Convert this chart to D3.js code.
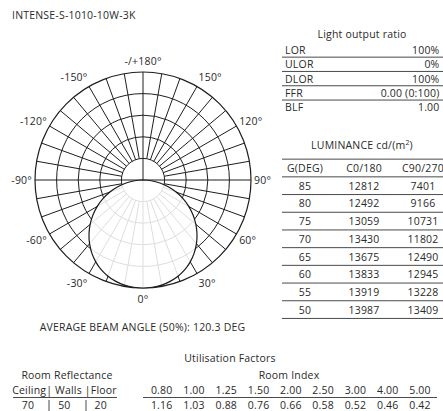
<!DOCTYPE html>
<html>
<head>
<meta charset="utf-8">
<script src="https://cdn.jsdelivr.net/npm/d3@7"></script>
<style>
  body { margin: 0; background: #fff; }
  svg text { font-family: "Open Sans", Lato, sans-serif; fill: #2a2a2a; letter-spacing: 0.2px; }
</style>
</head>
<body>
<svg class="photometry" width="443" height="411"></svg>
<script>
// ---- data ----
const title = 'INTENSE-S-1010-10W-3K';
const beamText = 'AVERAGE BEAM ANGLE (50%): 120.3 DEG';

const polarLabelAngles = [180, -150, 150, -120, 120, -90, 90, -60, 60, -30, 30, 0];
const polarLabels = ['-/+180°', '-150°', '150°', '-120°', '120°', '-90°', '90°', '-60°', '60°', '-30°', '30°', '0°'];

// relative intensity (% of max) by gamma, symmetric curve
const gammaAngles = [0, 5, 10, 15, 20, 25, 30, 35, 40, 45, 50, 55, 60, 65, 70, 75, 80, 85, 90];
const intensity = [100, 99.7, 98.9, 97.2, 94.8, 91.6, 87.5, 82.6, 77, 70.7, 63.9, 56.6, 48.9, 40.9, 32.6, 24.2, 15.9, 7.7, 0];

const lorLabels = ['LOR', 'ULOR', 'DLOR', 'FFR', 'BLF'];
const lorValues = ['100%', '0%', '100%', '0.00 (0:100)', '1.00'];

const lumHeaders = ['G(DEG)', 'C0/180', 'C90/270'];
const lumGamma = [85, 80, 75, 70, 65, 60, 55, 50];
const lumC0 = [12812, 12492, 13059, 13430, 13675, 13833, 13919, 13987];
const lumC90 = [7401, 9166, 10731, 11802, 12490, 12945, 13228, 13409];

const reflectHeader = 'Ceiling| Walls |Floor';
const reflectValues = [70, 50, 20];
const roomIndex = ['0.80', '1.00', '1.25', '1.50', '2.00', '2.50', '3.00', '4.00', '5.00'];
const ufValues = ['1.16', '1.03', '0.88', '0.76', '0.66', '0.58', '0.52', '0.46', '0.42'];

function drawSheet(){
  const svg = d3.select('svg.photometry');
  const fs = '10.5px';
  const lineCol = '#4a4a4a';

  svg.append('text')
    .text(title)
    .attr('x', 12).attr('y', 15)
    .attr('dominant-baseline', 'central')
    .style('font-size', fs);

  // ---- polar diagram ----
  const cx = 143, cy = 180, R = 108;
  const r = d3.scaleLinear().domain([0, 100]).range([0, R]);
  const rings = [20, 40, 60, 80, 100];

  const polar = svg.append('g')
    .attr('class', 'polar')
    .attr('transform', `translate(${cx}, ${cy})`);

  polar.selectAll('circle.ring')
    .data(rings)
    .enter()
    .append('circle')
      .attr('class', 'ring')
      .attr('r', d => r(d))
      .attr('fill', 'none')
      .attr('stroke', '#1e1e1e')
      .attr('stroke-width', d => d === 100 ? 1.2 : 1);

  const spokes = d3.range(0, 360, 10);
  polar.selectAll('line.spoke')
    .data(spokes)
    .enter()
    .append('line')
      .attr('class', 'spoke')
      .attr('x1', d => (d % 90 === 0 ? 0 : r(rings[0])) * Math.sin(d * Math.PI / 180))
      .attr('y1', d => (d % 90 === 0 ? 0 : r(rings[0])) * Math.cos(d * Math.PI / 180))
      .attr('x2', d => R * Math.sin(d * Math.PI / 180))
      .attr('y2', d => R * Math.cos(d * Math.PI / 180))
      .attr('stroke', '#1e1e1e')
      .attr('stroke-width', 1);

  // full curve: left half (negative gamma) then right half
  const curvePts = gammaAngles.map((g, i) => [-g, intensity[i]]).reverse()
    .concat(gammaAngles.slice(1).map((g, i) => [g, intensity[i + 1]]));

  const radial = d3.lineRadial()
    .angle(d => Math.PI - d[0] * Math.PI / 180)
    .radius(d => r(d[1]))
    .curve(d3.curveCardinal);

  polar.append('path')
    .datum(curvePts)
    .attr('d', radial)
    .attr('fill', '#fff')
    .attr('fill-opacity', 0.85)
    .attr('stroke', '#1a1a1a')
    .attr('stroke-width', 1.2);

  polar.selectAll('text.angLab')
    .data(polarLabelAngles)
    .enter()
    .append('text')
      .attr('class', 'angLab')
      .attr('x', d => (d === 0 || d === 180) ? 0 : 111 * Math.sin(d * Math.PI / 180))
      .attr('y', d => 119 * Math.cos(d * Math.PI / 180))
      .attr('dominant-baseline', 'central')
      .style('text-anchor', d => (d === 0 || d === 180) ? 'middle' : (d < 0 ? 'end' : 'start'))
      .style('font-size', fs)
      .text((d, i) => polarLabels[i]);

  svg.append('text')
    .text(beamText)
    .attr('x', 142.5).attr('y', 326.5)
    .attr('dominant-baseline', 'central')
    .style('text-anchor', 'middle')
    .style('font-size', fs);

  // ---- light output ratio table ----
  const tblL = 282, tblR = 443;
  const lorY = d3.scaleLinear().domain([0, 4]).range([50, 107.2]);

  svg.append('text')
    .text('Light output ratio')
    .attr('x', 362).attr('y', 34)
    .attr('dominant-baseline', 'central')
    .style('text-anchor', 'middle')
    .style('font-size', fs);

  const lor = svg.append('g').attr('class', 'lor');
  lor.selectAll('text.lorLab')
    .data(lorLabels)
    .enter()
    .append('text')
      .attr('x', 285)
      .attr('y', (d, i) => lorY(i))
      .attr('dominant-baseline', 'central')
      .style('font-size', fs)
      .text(d => d);
  lor.selectAll('text.lorVal')
    .data(lorValues)
    .enter()
    .append('text')
      .attr('x', 439.5)
      .attr('y', (d, i) => lorY(i))
      .attr('dominant-baseline', 'central')
      .style('text-anchor', 'end')
      .style('font-size', fs)
      .text(d => d);
  lor.selectAll('line')
    .data(lorLabels.slice(0, 4))
    .enter()
    .append('line')
      .attr('x1', tblL).attr('x2', tblR)
      .attr('y1', (d, i) => lorY(i + 0.5))
      .attr('y2', (d, i) => lorY(i + 0.5))
      .attr('stroke', lineCol)
      .attr('stroke-width', 1);

  // ---- luminance table ----
  const lumTitle = svg.append('text')
    .attr('x', 362).attr('y', 145)
    .attr('dominant-baseline', 'central')
    .style('text-anchor', 'middle')
    .style('font-size', fs);
  lumTitle.append('tspan').text('LUMINANCE cd/(m');
  lumTitle.append('tspan').text('2').attr('dy', -3).style('font-size', '7px');
  lumTitle.append('tspan').text(')').attr('dy', 3);

  const colX = d3.scalePoint().domain(lumHeaders).range([305, 423]);
  const lumY = d3.scaleLinear().domain([-1, 7]).range([168, 309.6]);

  const lum = svg.append('g').attr('class', 'lum');
  lum.selectAll('text.hdr')
    .data(lumHeaders)
    .enter()
    .append('text')
      .attr('x', d => colX(d))
      .attr('y', lumY(-1))
      .attr('dominant-baseline', 'central')
      .style('text-anchor', 'middle')
      .style('font-size', fs)
      .text(d => d);

  const rows = lumGamma.map((g, i) => [g, lumC0[i], lumC90[i]]);
  rows.forEach((row, i) => {
    lum.selectAll(null)
      .data(row)
      .enter()
      .append('text')
        .attr('x', (d, j) => colX(lumHeaders[j]))
        .attr('y', lumY(i))
        .attr('dominant-baseline', 'central')
        .style('text-anchor', 'middle')
        .style('font-size', fs)
        .text(d => d);
  });

  lum.selectAll('line')
    .data(d3.range(-2, 8))
    .enter()
    .append('line')
      .attr('x1', tblL).attr('x2', tblR)
      .attr('y1', d => lumY(d + 0.5))
      .attr('y2', d => lumY(d + 0.5))
      .attr('stroke', lineCol)
      .attr('stroke-width', 1);

  // ---- utilisation factors ----
  svg.append('text')
    .text('Utilisation Factors')
    .attr('x', 230).attr('y', 358)
    .attr('dominant-baseline', 'central')
    .style('text-anchor', 'middle')
    .style('font-size', fs);

  svg.append('text')
    .text('Room Reflectance')
    .attr('x', 67).attr('y', 375)
    .attr('dominant-baseline', 'central')
    .style('text-anchor', 'middle')
    .style('font-size', fs);

  svg.append('text')
    .text(reflectHeader)
    .attr('x', 64.5).attr('y', 389.5)
    .attr('dominant-baseline', 'central')
    .style('text-anchor', 'middle')
    .style('font-size', fs);

  svg.append('line')
    .attr('x1', 13).attr('x2', 117)
    .attr('y1', 397.5).attr('y2', 397.5)
    .attr('stroke', lineCol);

  const reflX = d3.scalePoint().domain(reflectValues).range([28, 100.7]);
  svg.selectAll('text.refl')
    .data(reflectValues)
    .enter()
    .append('text')
      .attr('class', 'refl')
      .attr('x', d => reflX(d))
      .attr('y', 404.5)
      .attr('dominant-baseline', 'central')
      .style('text-anchor', 'middle')
      .style('font-size', fs)
      .text(d => d);

  svg.selectAll('line.reflSep')
    .data([49, 86])
    .enter()
    .append('line')
      .attr('class', 'reflSep')
      .attr('x1', d => d).attr('x2', d => d)
      .attr('y1', 400).attr('y2', 411)
      .attr('stroke', '#333')
      .attr('stroke-width', 0.9);

  svg.append('text')
    .text('Room Index')
    .attr('x', 289).attr('y', 375)
    .attr('dominant-baseline', 'central')
    .style('text-anchor', 'middle')
    .style('font-size', fs);

  const riX = d3.scalePoint().domain(roomIndex).range([161.7, 420]);
  svg.selectAll('text.ri')
    .data(roomIndex)
    .enter()
    .append('text')
      .attr('class', 'ri')
      .attr('x', d => riX(d))
      .attr('y', 389.5)
      .attr('dominant-baseline', 'central')
      .style('text-anchor', 'middle')
      .style('font-size', fs)
      .text(d => d);

  svg.append('line')
    .attr('x1', 143).attr('x2', 437)
    .attr('y1', 397.5).attr('y2', 397.5)
    .attr('stroke', lineCol);

  svg.selectAll('text.uf')
    .data(ufValues)
    .enter()
    .append('text')
      .attr('class', 'uf')
      .attr('x', (d, i) => riX(roomIndex[i]))
      .attr('y', 404.5)
      .attr('dominant-baseline', 'central')
      .style('text-anchor', 'middle')
      .style('font-size', fs)
      .text(d => d);
}

drawSheet();
</script>
</body>
</html>
